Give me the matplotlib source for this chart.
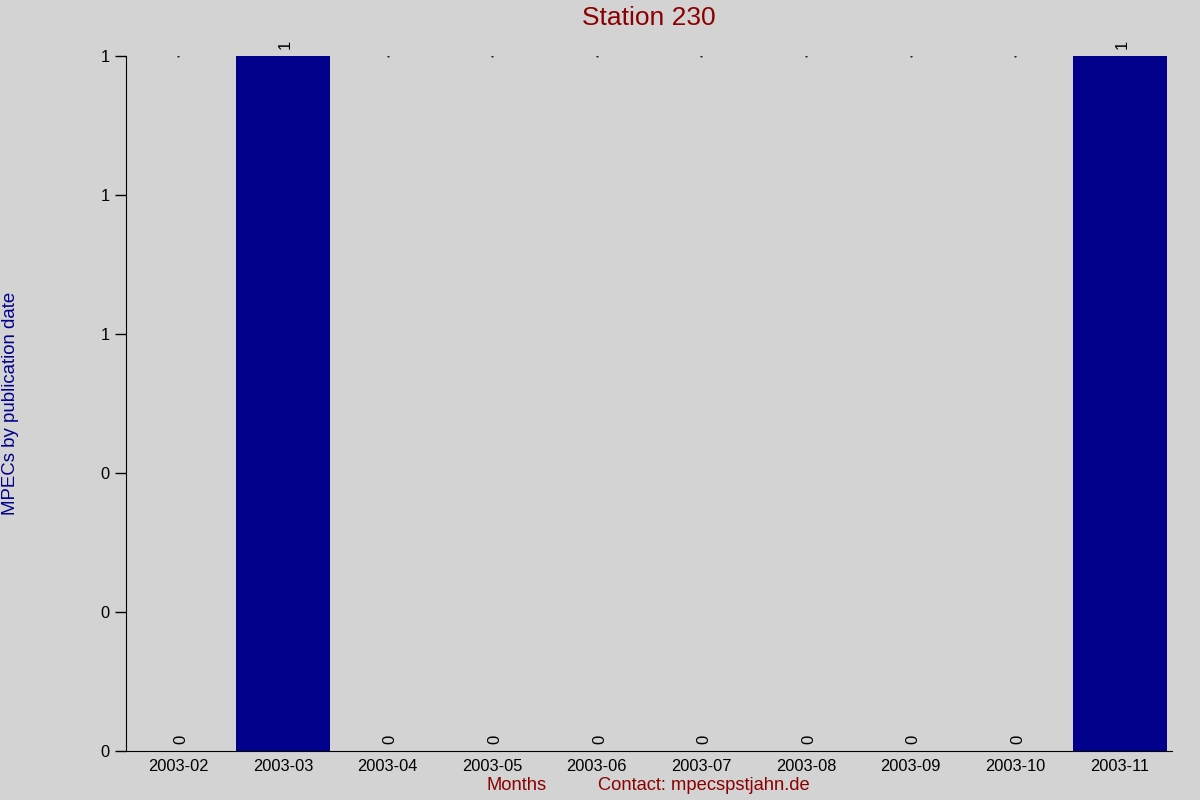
import matplotlib
matplotlib.use("Agg")
import matplotlib.pyplot as plt
import numpy as np

plt.rcParams['font.family'] = ['Liberation Sans', 'DejaVu Sans']

months = ["2003-02", "2003-03", "2003-04", "2003-05", "2003-06",
          "2003-07", "2003-08", "2003-09", "2003-10", "2003-11"]
counts = [0, 1, 0, 0, 0, 0, 0, 0, 0, 1]
y_ticks = [0, 0.2, 0.4, 0.6, 0.8, 1.0]
y_tick_labels = ["0", "0", "0", "1", "1", "1"]

bg = "#D3D3D3"
fig = plt.figure(figsize=(12, 8), dpi=100, facecolor=bg)
ax = fig.add_axes([126/1200, 49/800, 1046/1200, 695/800], facecolor=bg)

x = np.arange(len(months))
ax.bar(x, counts, width=0.9, color="#00008B")
ax.set_xlim(-0.5, len(months) - 0.5)
ax.set_ylim(0, 1)

for xi, v in zip(x, counts):
    ax.annotate(str(v), (xi, v), xytext=(2, 5), textcoords="offset points",
                rotation=90, ha="center", va="bottom", fontsize=12, color="black")
    if v == 0:
        ax.plot([xi], [1], marker='.', markersize=1, color='black')

ax.set_xticks(x)
ax.set_xticklabels(months, fontsize=11.8)
ax.tick_params(axis='x', length=0, pad=6)
ax.set_yticks(y_ticks)
ax.set_yticklabels(y_tick_labels, fontsize=11.8)
ax.tick_params(axis='y', length=8, width=1, pad=4, direction='out')

for s in ["top", "right"]:
    ax.spines[s].set_visible(False)
ax.spines["left"].set_color("black")
ax.spines["bottom"].set_color("black")

fig.text(649/1200, 1 - 18/800, "Station 230", ha="center", va="center",
         fontsize=19, color="#8B0000")
fig.text(11/1200, 1 - 403/800, "MPECs by publication date", rotation=90,
         ha="center", va="center", fontsize=13.4, color="#00008B")
fig.text(517/1200, 1 - 786/800, "Months", ha="center", va="center",
         fontsize=13.2, color="#8B0000")
fig.text(704/1200, 1 - 786/800, "Contact: mpecspstjahn.de", ha="center",
         va="center", fontsize=13.2, color="#8B0000")

fig.savefig("out.png", dpi=100, facecolor=bg)
